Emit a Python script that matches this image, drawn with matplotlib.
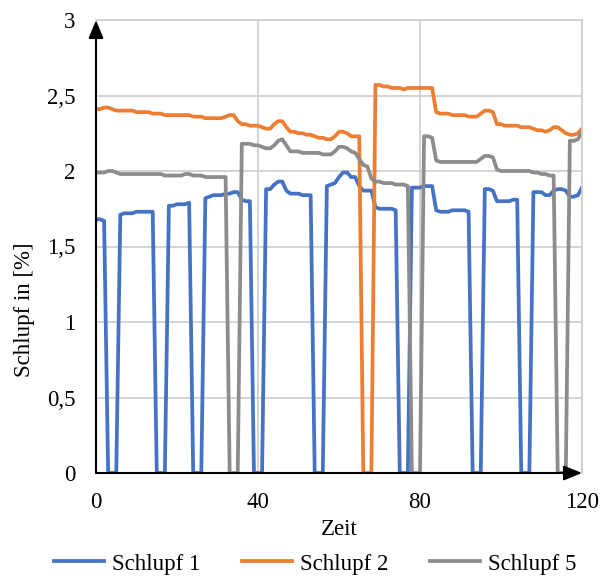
import numpy as np
from matplotlib import pyplot as plt

# Zeit 0..120 (one sample per unit)
zeit = np.arange(0, 121)

schlupf_1 = [
    1.68, 1.68, 1.67, 0, 0, 0, 1.71, 1.72, 1.72, 1.72,
    1.73, 1.73, 1.73, 1.73, 1.73, 0, 0, 0, 1.77, 1.77,
    1.78, 1.78, 1.78, 1.79, 0, 0, 0, 1.82, 1.83, 1.84,
    1.84, 1.84, 1.85, 1.85, 1.86, 1.86, 1.81, 1.80, 1.80, 0,
    0, 0, 1.88, 1.88, 1.91, 1.93, 1.93, 1.87, 1.85, 1.85,
    1.85, 1.84, 1.84, 1.84, 0, 0, 0, 1.90, 1.91, 1.92,
    1.96, 1.99, 1.99, 1.96, 1.96, 1.90, 1.87, 1.87, 1.87, 1.76,
    1.75, 1.75, 1.75, 1.75, 1.74, 0, 0, 0, 1.89, 1.89,
    1.89, 1.90, 1.90, 1.90, 1.74, 1.73, 1.73, 1.73, 1.74, 1.74,
    1.74, 1.74, 1.73, 0, 0, 0, 1.88, 1.88, 1.87, 1.80,
    1.80, 1.80, 1.80, 1.81, 1.81, 0, 0, 0, 1.86, 1.86,
    1.86, 1.84, 1.84, 1.87, 1.88, 1.88, 1.87, 1.83, 1.83, 1.84,
    1.89,
]

schlupf_2 = [
    2.41, 2.41, 2.42, 2.42, 2.41, 2.40, 2.40, 2.40, 2.40, 2.40,
    2.39, 2.39, 2.39, 2.39, 2.38, 2.38, 2.38, 2.37, 2.37, 2.37,
    2.37, 2.37, 2.37, 2.37, 2.36, 2.36, 2.36, 2.35, 2.35, 2.35,
    2.35, 2.35, 2.36, 2.37, 2.37, 2.33, 2.31, 2.31, 2.30, 2.30,
    2.30, 2.29, 2.28, 2.28, 2.31, 2.33, 2.33, 2.29, 2.26, 2.26,
    2.25, 2.25, 2.24, 2.24, 2.23, 2.22, 2.22, 2.21, 2.21, 2.23,
    2.26, 2.26, 2.25, 2.23, 2.23, 2.23, 0, 0, 0, 2.57,
    2.57, 2.56, 2.56, 2.55, 2.55, 2.55, 2.54, 2.55, 2.55, 2.55,
    2.55, 2.55, 2.55, 2.55, 2.39, 2.38, 2.38, 2.38, 2.37, 2.37,
    2.37, 2.37, 2.36, 2.36, 2.36, 2.38, 2.40, 2.40, 2.39, 2.31,
    2.31, 2.30, 2.30, 2.30, 2.30, 2.29, 2.29, 2.29, 2.28, 2.27,
    2.27, 2.26, 2.27, 2.29, 2.29, 2.27, 2.25, 2.24, 2.24, 2.25,
    2.28,
]

schlupf_5 = [
    1.99, 1.99, 1.99, 2.00, 2.00, 1.99, 1.98, 1.98, 1.98, 1.98,
    1.98, 1.98, 1.98, 1.98, 1.98, 1.98, 1.98, 1.97, 1.97, 1.97,
    1.97, 1.97, 1.98, 1.98, 1.97, 1.97, 1.97, 1.96, 1.96, 1.96,
    1.96, 1.96, 1.96, 0, 0, 0, 2.18, 2.18, 2.18, 2.17,
    2.17, 2.16, 2.15, 2.15, 2.17, 2.20, 2.21, 2.17, 2.13, 2.13,
    2.13, 2.12, 2.12, 2.12, 2.12, 2.12, 2.11, 2.11, 2.11, 2.13,
    2.16, 2.16, 2.15, 2.13, 2.12, 2.08, 2.04, 2.03, 1.95, 1.93,
    1.93, 1.92, 1.92, 1.92, 1.91, 1.91, 1.91, 1.90, 0, 0,
    0, 2.23, 2.23, 2.22, 2.07, 2.06, 2.06, 2.06, 2.06, 2.06,
    2.06, 2.06, 2.06, 2.06, 2.06, 2.08, 2.10, 2.10, 2.09, 2.01,
    2.00, 2.00, 2.00, 2.00, 2.00, 2.00, 2.00, 2.00, 1.99, 1.99,
    1.98, 1.98, 1.97, 1.97, 0, 0, 0, 2.20, 2.20, 2.21,
    2.26,
]

x_ticks = [0, 40, 80, 120]
y_ticks = [0, 0.5, 1, 1.5, 2, 2.5, 3]
y_tick_labels = ['0', '0,5', '1', '1,5', '2', '2,5', '3']

plt.rcParams['font.family'] = ['Liberation Serif', 'DejaVu Serif']
fs = 16.5

fig = plt.figure(figsize=(6.1, 5.78), dpi=100)
ax = fig.add_axes([96 / 610, 1 - 473 / 578, 486 / 610, 453 / 578])

ax.plot(zeit, schlupf_1, color='#4472C4', lw=2.7, label='Schlupf 1', solid_joinstyle='round')
ax.plot(zeit, schlupf_2, color='#ED7D31', lw=2.7, label='Schlupf 2', solid_joinstyle='round')
ax.plot(zeit, schlupf_5, color='#8C8C8C', lw=2.7, label='Schlupf 5', solid_joinstyle='round')

ax.set_xlim(0, 120)
ax.set_ylim(0, 3)
ax.set_xticks(x_ticks)
ax.set_yticks(y_ticks)
ax.set_yticklabels(y_tick_labels)
ax.tick_params(length=0, labelsize=fs, colors='black')
ax.tick_params(axis='x', pad=14)
ax.tick_params(axis='y', pad=15)
ax.grid(True, color='#D0D0D0', lw=1.3)
ax.set_axisbelow(True)

for side in ['top', 'right']:
    ax.spines[side].set_color('#D0D0D0')
    ax.spines[side].set_linewidth(1.3)
for side in ['left', 'bottom']:
    ax.spines[side].set_visible(False)

# axis arrows
ax.annotate('', xy=(1.0, 0), xytext=(0, 0), xycoords='axes fraction',
            arrowprops=dict(arrowstyle='-|>,head_length=1.1,head_width=0.45', color='black', lw=1.5,
                            shrinkA=0, shrinkB=0), annotation_clip=False)
ax.annotate('', xy=(0, 1.0), xytext=(0, 0), xycoords='axes fraction',
            arrowprops=dict(arrowstyle='-|>,head_length=1.1,head_width=0.45', color='black', lw=1.5,
                            shrinkA=0, shrinkB=0), annotation_clip=False)

ax.set_xlabel('Zeit', fontsize=fs, labelpad=4)
fig.text(25 / 610, 1 - 310 / 578, 'Schlupf in [%]', rotation=90, fontsize=fs,
         ha='center', va='center')

fig.legend(loc='center', bbox_to_anchor=(315 / 610, 1 - 564 / 578), ncol=3, frameon=False,
           fontsize=fs, handlelength=2.2, columnspacing=1.8, handletextpad=0.35)

plt.savefig('out.png', dpi=100)
